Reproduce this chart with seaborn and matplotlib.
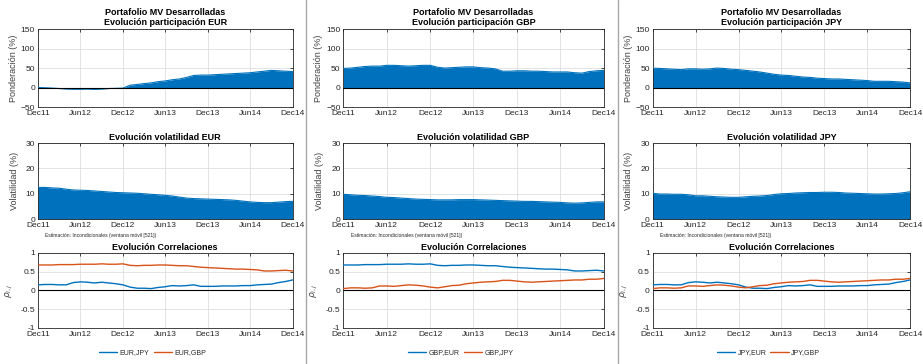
import numpy as np
import pandas as pd
import matplotlib
matplotlib.use("Agg")
import matplotlib.pyplot as plt
from matplotlib.lines import Line2D
import seaborn as sns

# ---- data (monthly, Dec 2011 .. Dec 2014) ----
currencies = ["EUR", "GBP", "JPY"]
tick_labels = ["Dec11", "Jun12", "Dec12", "Jun13", "Dec13", "Jun14", "Dec14"]

weight_eur = [0, -0.5, -1.5, -2.5, -3.5, -4, -4, -3.5, -4.5, -3.5, -2.5, -2, -1.5,
              6, 8, 10, 12, 15, 17, 20, 22, 26, 31, 32,
              32, 33, 34, 35, 36, 37, 38, 40, 42, 44, 43, 42, 41]
weight_gbp = [49, 50, 52, 54, 55, 55, 57, 57, 56, 55, 56, 57, 57,
              52, 50, 51, 52, 53, 53, 51, 50, 48, 42, 42,
              43, 43, 42, 42, 41, 40, 40, 40, 38, 37, 41, 43, 44]
weight_jpy = [50, 49, 48, 47, 46, 48, 48, 47, 48, 50, 49, 47, 46,
              44, 42, 40, 37, 34, 32, 31, 29, 27, 26, 24,
              23, 22, 22, 21, 20, 19, 18, 16, 16, 16, 15, 14, 12]

vol_eur = [12.5, 12.5, 12.3, 12.2, 11.8, 11.5, 11.4, 11.3, 11.1, 10.9, 10.7, 10.5, 10.4,
           10.3, 10.2, 10.0, 9.8, 9.6, 9.4, 9.1, 8.7, 8.3, 8.1, 8.0,
           7.9, 7.8, 7.7, 7.6, 7.4, 7.1, 6.8, 6.6, 6.5, 6.5, 6.7, 6.9, 7.0]
vol_gbp = [9.8, 9.6, 9.4, 9.3, 9.1, 8.9, 8.6, 8.5, 8.3, 8.1, 7.9, 7.8, 7.7,
           7.6, 7.6, 7.6, 7.7, 7.7, 7.7, 7.6, 7.5, 7.4, 7.3, 7.2,
           7.1, 7.0, 7.0, 6.9, 6.8, 6.7, 6.6, 6.4, 6.3, 6.4, 6.6, 6.8, 6.8]
vol_jpy = [10.2, 9.9, 9.9, 9.8, 9.8, 9.6, 9.2, 9.2, 9.0, 8.8, 8.7, 8.6, 8.6,
           8.8, 9.0, 9.1, 9.3, 9.7, 10.0, 10.1, 10.3, 10.4, 10.5, 10.5,
           10.6, 10.6, 10.5, 10.3, 10.2, 10.1, 10.0, 9.9, 9.9, 10.0, 10.1, 10.4, 10.8]

corr_eur_gbp = [0.68, 0.68, 0.68, 0.69, 0.69, 0.69, 0.70, 0.70, 0.70, 0.71, 0.70, 0.70, 0.71,
                0.67, 0.66, 0.67, 0.67, 0.68, 0.68, 0.67, 0.66, 0.66, 0.64, 0.62,
                0.61, 0.60, 0.59, 0.58, 0.57, 0.57, 0.56, 0.55, 0.52, 0.52, 0.53, 0.54, 0.52]
corr_eur_jpy = [0.15, 0.16, 0.16, 0.15, 0.15, 0.21, 0.23, 0.22, 0.20, 0.22, 0.20, 0.18, 0.15,
                0.09, 0.06, 0.06, 0.05, 0.08, 0.10, 0.13, 0.12, 0.13, 0.15, 0.11,
                0.11, 0.11, 0.12, 0.12, 0.12, 0.13, 0.13, 0.15, 0.16, 0.17, 0.21, 0.24, 0.28]
corr_gbp_jpy = [0.05, 0.07, 0.07, 0.06, 0.07, 0.12, 0.12, 0.11, 0.13, 0.15, 0.14, 0.12, 0.09,
                0.07, 0.10, 0.13, 0.14, 0.18, 0.20, 0.22, 0.23, 0.24, 0.27, 0.27,
                0.25, 0.23, 0.22, 0.23, 0.24, 0.25, 0.26, 0.27, 0.28, 0.28, 0.30, 0.30, 0.32]

dates = pd.date_range("2011-12-01", "2014-12-01", freq="MS")
tick_dates = pd.date_range("2011-12-01", "2014-12-01", freq="6MS")

weights = {"EUR": weight_eur, "GBP": weight_gbp, "JPY": weight_jpy}
vols = {"EUR": vol_eur, "GBP": vol_gbp, "JPY": vol_jpy}
corr_pairs = {
    "EUR": [("EUR,JPY", corr_eur_jpy), ("EUR,GBP", corr_eur_gbp)],
    "GBP": [("GBP,EUR", corr_eur_gbp), ("GBP,JPY", corr_gbp_jpy)],
    "JPY": [("JPY,EUR", corr_eur_jpy), ("JPY,GBP", corr_gbp_jpy)],
}

# ---- style ----
sns.set_theme(style="white")
plt.rcParams["font.family"] = ["Liberation Sans", "DejaVu Sans"]
AREA = "#0072BD"
LINE_COLORS = ["#0072BD", "#D95319"]
TXT = "#262626"

fig = plt.figure(figsize=(9.23, 3.64), dpi=100)

col_lr = [(0.041, 0.317), (0.372, 0.654), (0.707, 0.986)]
row_bt = [(0.706, 0.920), (0.398, 0.607), (0.099, 0.305)]


def style_axes(ax, yticks, ylim):
    ax.set_xlim(dates[0], dates[-1])
    ax.set_ylim(*ylim)
    ax.set_yticks(yticks)
    ax.set_xticks(tick_dates)
    ax.set_xticklabels(tick_labels)
    ax.grid(True, color="#dedede", lw=0.6)
    ax.set_axisbelow(True)
    ax.tick_params(axis="both", labelsize=6, colors=TXT, direction="in",
                   length=2.5, width=0.6, top=True, right=True, pad=2)
    for s in ax.spines.values():
        s.set_color(TXT)
        s.set_linewidth(0.6)
    ax.set_xlabel("")


for c, cur in enumerate(currencies):
    l, r = col_lr[c]
    w = r - l

    # participation
    ax1 = fig.add_axes([l, row_bt[0][0], w, row_bt[0][1] - row_bt[0][0]])
    ax1.fill_between(dates, 0, weights[cur], color=AREA, lw=0, zorder=2)
    sns.lineplot(x=dates, y=weights[cur], ax=ax1, color=AREA, lw=0.8, zorder=3)
    ax1.axhline(0, color="black", lw=0.8, zorder=4)
    style_axes(ax1, [-50, 0, 50, 100, 150], (-50, 150))
    ax1.set_ylabel("Ponderación (%)", fontsize=6.5, color="#404040", labelpad=2)
    ax1.set_title(f"Portafolio MV Desarrolladas\nEvolución participación {cur}",
                  fontsize=6.5, fontweight="bold", color="black", pad=3, linespacing=1.15)

    # volatility
    ax2 = fig.add_axes([l, row_bt[1][0], w, row_bt[1][1] - row_bt[1][0]])
    ax2.fill_between(dates, 0, vols[cur], color=AREA, lw=0, zorder=2)
    sns.lineplot(x=dates, y=vols[cur], ax=ax2, color=AREA, lw=0.8, zorder=3)
    style_axes(ax2, [0, 10, 20, 30], (0, 30))
    ax2.set_ylabel("Volatilidad (%)", fontsize=6.5, color="#404040", labelpad=5)
    ax2.set_title(f"Evolución volatilidad {cur}", fontsize=6.5, fontweight="bold",
                  color="black", pad=2)
    ax2.text(0.03, -0.22, "Estimación: Incondicionales (ventana móvil [521])",
             transform=ax2.transAxes, fontsize=3.6, color=TXT, va="center", ha="left")

    # correlations
    ax3 = fig.add_axes([l, row_bt[2][0], w, row_bt[2][1] - row_bt[2][0]])
    for k, (name, vals) in enumerate(corr_pairs[cur]):
        sns.lineplot(x=dates, y=vals, ax=ax3, color=LINE_COLORS[k], lw=1.0,
                     label=name, zorder=3)
    ax3.axhline(0, color="black", lw=0.8, zorder=2)
    style_axes(ax3, [-1, -0.5, 0, 0.5, 1], (-1, 1))
    ax3.set_yticklabels(["-1", "-0.5", "0", "0.5", "1"])
    ax3.set_ylabel(r"$\rho_{i,j}$", fontsize=6.5, color="#404040", labelpad=4)
    ax3.set_title("Evolución Correlaciones", fontsize=6.5, fontweight="bold",
                  color="black", pad=2)
    ax3.legend(loc="center", bbox_to_anchor=(0.45, -0.33), ncol=2, frameon=False,
               fontsize=5, handlelength=2.6, columnspacing=0.6, handletextpad=0.4)

# column separators
for xs in (306 / 923, 618 / 923):
    fig.add_artist(Line2D([xs, xs], [0, 1], transform=fig.transFigure,
                          color="#a8a8a8", lw=1.0))

fig.savefig("out.png", dpi=100, facecolor="white")
